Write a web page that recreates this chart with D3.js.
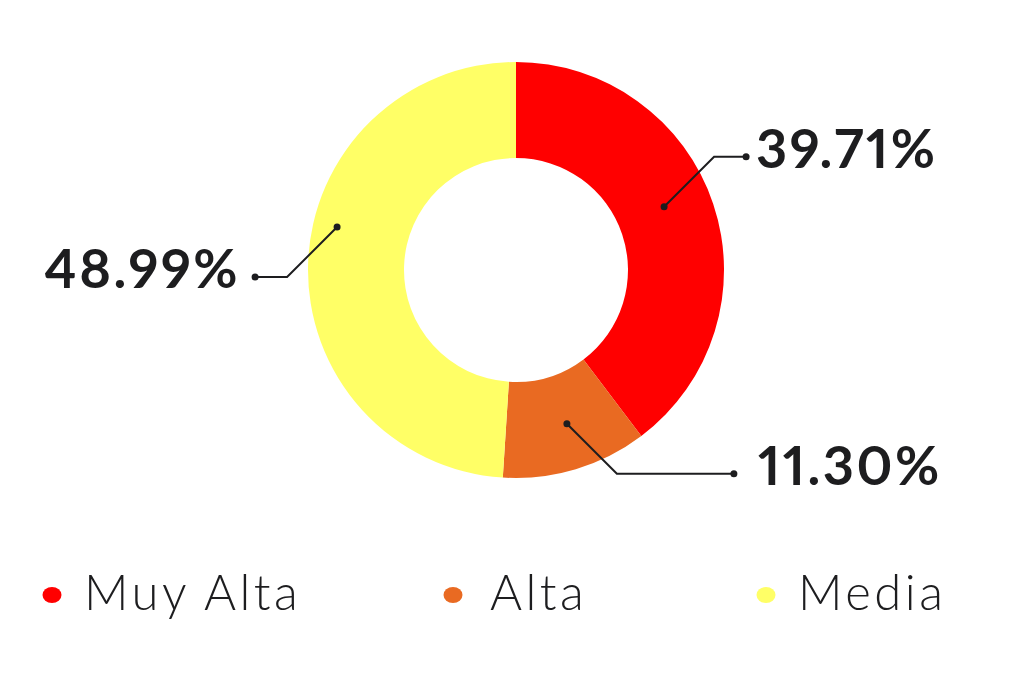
<!DOCTYPE html>
<html><head><meta charset="utf-8">
<script src="https://cdn.jsdelivr.net/npm/d3@7"></script>
<style>body{margin:0;background:#fff}svg{display:block}</style>
</head><body>
<svg id="c" width="1024" height="697"></svg>
<script>
const categories = ["Muy Alta", "Alta", "Media"];
const values = [39.71, 11.30, 48.99];
const labels = ["39.71%", "11.30%", "48.99%"];
const colors = ["#FF0000", "#E96A22", "#FFFF66"];

const svg = d3.select("#c");
const cx = 516, cy = 270, R = 208, r = 112;
const g = svg.append("g").attr("transform", `translate(${cx},${cy})`);
const pie = d3.pie().sort(null).value(d => d)(values);
const arc = d3.arc().innerRadius(r).outerRadius(R);
g.selectAll("path").data(pie).join("path").attr("d", arc).attr("fill", (d, i) => colors[i]);

// leader layout: angle shift (rad), anchor radius, horizontal dir, vertical dir, horizontal length, text gap
const leader = [
  {shift: -0.08, rad: 161, dir: 1, vy: -1, hlen: 32, gap: 10},
  {shift: -0.028, rad: 162, dir: 1, vy: 1, hlen: 117, gap: 24},
  {shift: 0.204, rad: 184, dir: -1, vy: 1, hlen: 32, gap: 15}
];
const ink = "#1d1d1f";
pie.forEach((d, i) => {
  const L = leader[i];
  const a = (d.startAngle + d.endAngle) / 2 + L.shift;
  const x0 = L.rad * Math.sin(a), y0 = -L.rad * Math.cos(a);
  const x1 = x0 + L.dir * 50, y1 = y0 + L.vy * 50;
  const x2 = x1 + L.dir * L.hlen;
  g.append("polyline").attr("points", `${x0},${y0} ${x1},${y1} ${x2},${y1}`)
    .attr("fill", "none").attr("stroke", ink).attr("stroke-width", 2);
  g.append("circle").attr("cx", x0).attr("cy", y0).attr("r", 3.5).attr("fill", ink);
  g.append("circle").attr("cx", x2).attr("cy", y1).attr("r", 3.5).attr("fill", ink);
  g.append("text").attr("x", x2 + L.dir * L.gap).attr("y", y1 + 11)
    .attr("text-anchor", L.dir > 0 ? "start" : "end")
    .attr("font-family", "Lato, 'Open Sans', sans-serif").attr("font-weight", 700)
    .style("font-variant-numeric", "proportional-nums")
    .attr("letter-spacing", 2.5)
    .attr("font-size", 54).attr("fill", ink).text(labels[i]);
});

// legend
const legX = [52, 453, 766];
const leg = svg.append("g");
categories.forEach((c, i) => {
  leg.append("ellipse").attr("cx", legX[i]).attr("cy", 595).attr("rx", 9.5).attr("ry", 8)
    .attr("fill", colors[i]);
  leg.append("text").attr("x", legX[i] + (i === 1 ? 37 : 32)).attr("y", 610)
    .attr("font-family", "Lato, 'Open Sans', sans-serif").attr("font-weight", 300)
    .attr("letter-spacing", 3.5)
    .attr("font-size", 49).attr("fill", ink).text(c);
});
</script>
</body></html>
